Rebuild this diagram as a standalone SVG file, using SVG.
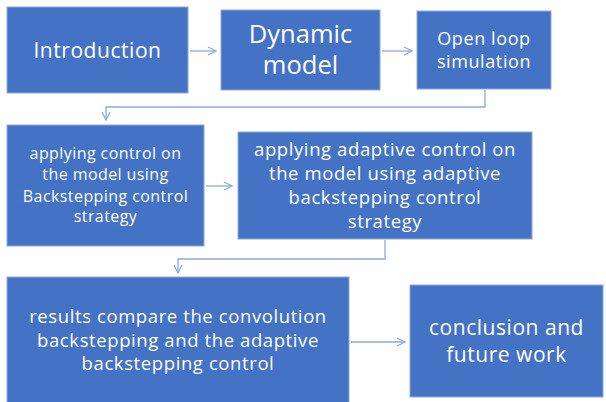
<svg xmlns="http://www.w3.org/2000/svg" width="606" height="402" viewBox="0 0 606 402">
<defs>
<style>
.box{fill:#4472C4;stroke:#8FAADC;stroke-width:1}
.t{fill:#ffffff;font-family:"Open Sans","Noto Sans",sans-serif;text-anchor:middle}
.c{fill:none;stroke:#8FAADC;stroke-width:1.3}
</style>
<marker id="ah" viewBox="0 0 10 10" refX="9" refY="5" markerWidth="10" markerHeight="10" markerUnits="userSpaceOnUse" orient="auto">
<path d="M1,1 L9,5 L1,9" fill="none" stroke="#8FAADC" stroke-width="1.3"/>
</marker>
</defs>
<rect width="606" height="402" fill="#ffffff"/>
<g id="connectors">
<line class="c" x1="190" y1="51" x2="216" y2="51" marker-end="url(#ah)"/>
<line class="c" x1="382" y1="51" x2="412" y2="51" marker-end="url(#ah)"/>
<polyline class="c" points="485,90 485,107 106,107 106,120" marker-end="url(#ah)"/>
<line class="c" x1="206" y1="186" x2="232" y2="186" marker-end="url(#ah)"/>
<polyline class="c" points="385,240 385,259 178,259 178,273" marker-end="url(#ah)"/>
<line class="c" x1="351" y1="342" x2="405" y2="342" marker-end="url(#ah)"/>
</g>
<g id="introduction">
<rect class="box" x="7" y="7" width="181" height="86"/>
<text class="t" x="97.5" y="58" font-size="21" letter-spacing="0.55">Introduction</text>
</g>
<g id="dynamic-model">
<rect class="box" x="221" y="10" width="159" height="80"/>
<text class="t" x="300.5" y="43" font-size="25.5">Dynamic</text>
<text class="t" x="300.5" y="74" font-size="25.5">model</text>
</g>
<g id="open-loop">
<rect class="box" x="417" y="11" width="134" height="78"/>
<text class="t" x="484" y="45" font-size="18" letter-spacing="0.6">Open loop</text>
<text class="t" x="484" y="68" font-size="18" letter-spacing="0.6">simulation</text>
</g>
<g id="backstepping">
<rect class="box" x="7" y="125" width="197" height="121"/>
<text class="t" x="105.5" y="159" font-size="16" letter-spacing="0.42">applying control on</text>
<text class="t" x="105.5" y="180" font-size="16" letter-spacing="0.42">the model using</text>
<text class="t" x="105.5" y="202" font-size="16" letter-spacing="0.42">Backstepping control</text>
<text class="t" x="105.5" y="222" font-size="16" letter-spacing="0.42">strategy</text>
</g>
<g id="adaptive">
<rect class="box" x="238" y="132" width="294" height="107"/>
<text class="t" x="385" y="156" font-size="18.5" letter-spacing="0.6">applying adaptive control on</text>
<text class="t" x="385" y="180" font-size="18.5" letter-spacing="0.6">the model using adaptive</text>
<text class="t" x="385" y="204" font-size="18.5" letter-spacing="0.6">backstepping control</text>
<text class="t" x="385" y="228" font-size="18.5" letter-spacing="0.6">strategy</text>
</g>
<g id="results">
<rect class="box" x="7" y="277" width="342" height="126"/>
<text class="t" x="178" y="323" font-size="18.5" letter-spacing="0.6">results compare the convolution</text>
<text class="t" x="178" y="347" font-size="18.5" letter-spacing="0.6">backstepping and the adaptive</text>
<text class="t" x="178" y="370" font-size="18.5" letter-spacing="0.6">backstepping control</text>
</g>
<g id="conclusion">
<rect class="box" x="410" y="285" width="193" height="112"/>
<text class="t" x="506.5" y="335" font-size="21" letter-spacing="0.54">conclusion and</text>
<text class="t" x="506.5" y="362" font-size="21" letter-spacing="0.54">future work</text>
</g>
</svg>
